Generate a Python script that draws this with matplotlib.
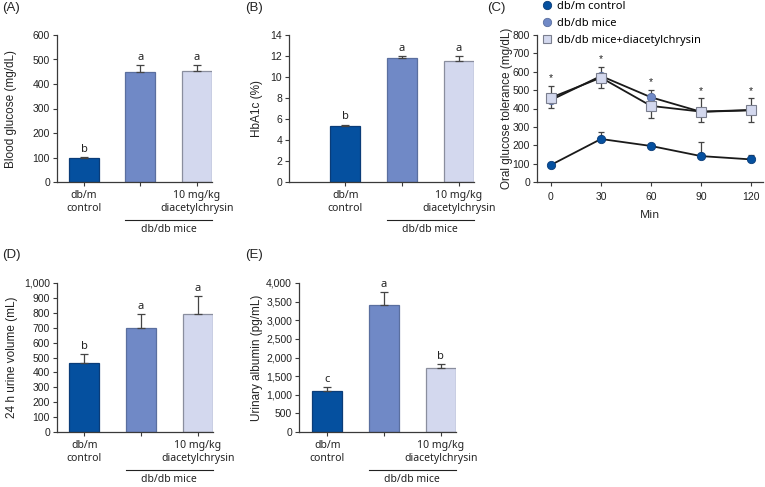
import matplotlib
matplotlib.use("Agg")
import matplotlib.pyplot as plt
from matplotlib.lines import Line2D
from matplotlib.ticker import StrMethodFormatter
import matplotlib.transforms as mtransforms

# ---------------- data ----------------
groups = ["db/m\ncontrol", "", "10 mg/kg\ndiacetylchrysin"]
group_bracket = "db/db mice"

glucose = [97, 450, 452]
glucose_err = [5, 27, 25]
glucose_sig = ["b", "a", "a"]

hba1c = [5.35, 11.8, 11.5]
hba1c_err = [0.12, 0.2, 0.5]
hba1c_sig = ["b", "a", "a"]

urine = [460, 700, 790]
urine_err = [65, 90, 125]
urine_sig = ["b", "a", "a"]

albumin = [1110, 3400, 1730]
albumin_err = [90, 360, 90]
albumin_sig = ["c", "a", "b"]

ogtt_time = [0, 30, 60, 90, 120]
ogtt_control = [93, 234, 196, 141, 123]
ogtt_control_err = [5, 40, 8, 77, 26]
ogtt_dbdb = [446, 577, 461, 382, 390]
ogtt_treat = [459, 568, 414, 383, 392]
ogtt_treat_err_low = [58, 58, 67, 55, 67]
ogtt_treat_err_high = [63, 56, 86, 72, 63]
ogtt_star = ["*", "*", "*", "*", "*"]
legend_labels = ["db/m control", "db/db mice", "db/db mice+diacetylchrysin"]

# ---------------- style ----------------
W, H = 765, 487
C_DARK = "#05509f"
C_MED = "#7089c6"
C_LIGHT = "#d3d8ee"
EDGE = ["#0a3c78", "#5a6f9f", "#8a8e9e"]
AX = "#3a3a3a"
NUM_FONT = ["Liberation Sans", "DejaVu Sans"]
TXT_FONT = ["Noto Sans", "DejaVu Sans"]

fig = plt.figure(figsize=(W / 100, H / 100), dpi=100)


def rect(l, r, t, b):
    return [l / W, 1 - b / H, (r - l) / W, (b - t) / H]


def style_axes(ax):
    for s in ["top", "right"]:
        ax.spines[s].set_visible(False)
    for s in ["left", "bottom"]:
        ax.spines[s].set_color(AX)
        ax.spines[s].set_linewidth(0.9)
    ax.tick_params(axis="both", direction="out", length=3, width=0.8,
                   color=AX, labelsize=7.5, labelcolor="#222222", pad=2)
    for lab in ax.get_yticklabels():
        lab.set_family(NUM_FONT)


def bar_panel(box, vals, errs, sig, ymax, ystep, ylabel, ylabel_x, xleft, thousands=False):
    ax = fig.add_axes(rect(*box))
    x = [0, 1, 2]
    cols = [C_DARK, C_MED, C_LIGHT]
    ax.bar(x, vals, width=0.53, color=cols, edgecolor=EDGE, linewidth=0.9, zorder=2)
    ax.errorbar(x, vals, yerr=[[0, 0, 0], errs], fmt="none", ecolor="#444444",
                elinewidth=0.9, capsize=3.2, capthick=0.9, zorder=3)
    for xi, v, e, s in zip(x, vals, errs, sig):
        ax.annotate(s, (xi, v + e), xytext=(0, 1.5), textcoords="offset points",
                    ha="center", va="bottom", fontsize=8, color="#222222",
                    family=TXT_FONT)
    nstep = int(round(ymax / ystep))
    ax.set_yticks([i * ystep for i in range(nstep + 1)])
    ax.set_xlim(xleft, 2.27)
    ax.set_ylim(0, ymax)
    if thousands:
        ax.yaxis.set_major_formatter(StrMethodFormatter("{x:,.0f}"))
    else:
        ax.yaxis.set_major_formatter(StrMethodFormatter("{x:.0f}"))
    ax.set_xticks(x)
    ax.set_xticklabels(groups, fontsize=7.5, family=TXT_FONT, linespacing=1.25)
    style_axes(ax)
    ax.tick_params(axis="x", pad=3)
    # y label
    l, r, t, b = box
    fig.text(ylabel_x / W, 1 - ((t + b) / 2) / H, ylabel, rotation=90,
             ha="center", va="center", fontsize=8.5, family=NUM_FONT, color="#222222")
    # bracket for db/db mice
    hpx = b - t
    trans = mtransforms.blended_transform_factory(ax.transData, ax.transAxes)
    ax.plot([1 - 0.265, 2.265], [-38 / hpx, -38 / hpx], color="#222222", lw=0.8,
            transform=trans, clip_on=False)
    ax.text(1.5, -48 / hpx, group_bracket, transform=trans, ha="center", va="center",
            fontsize=7.5, family=TXT_FONT, color="#222222")
    return ax


bar_panel((57, 212, 35, 182), glucose, glucose_err, glucose_sig, 600, 100,
          "Blood glucose (mg/dL)", 11, -0.48)
bar_panel((289, 474, 35, 182), hba1c, hba1c_err, hba1c_sig, 14, 2,
          "HbA1c (%)", 257, -0.99)
bar_panel((57, 213, 283, 432), urine, urine_err, urine_sig, 1000, 100,
          "24 h urine volume (mL)", 12, -0.48, thousands=True)
bar_panel((299, 456, 283, 432), albumin, albumin_err, albumin_sig, 4000, 500,
          "Urinary albumin (pg/mL)", 257, -0.5, thousands=True)

# ---------------- panel C ----------------
axc = fig.add_axes(rect(537, 763, 35, 182))
axc.errorbar(ogtt_time, ogtt_treat, yerr=[ogtt_treat_err_low, ogtt_treat_err_high],
             fmt="none", ecolor="#444444", elinewidth=0.9, capsize=2.5, capthick=0.9, zorder=2)
axc.errorbar(ogtt_time, ogtt_control, yerr=[[0] * 5, ogtt_control_err],
             fmt="none", ecolor="#444444", elinewidth=0.9, capsize=2.5, capthick=0.9, zorder=2)
axc.plot(ogtt_time, ogtt_dbdb, color="#1a1a1a", lw=1.3, marker="o", ms=6,
         mfc=C_MED, mec="#5a6f9f", mew=0.6, zorder=3)
axc.plot(ogtt_time, ogtt_treat, color="#1a1a1a", lw=1.3, marker="s", ms=6.5,
         mfc=C_LIGHT, mec="#7a7e8e", mew=0.8, zorder=4)
axc.plot(ogtt_time, ogtt_control, color="#1a1a1a", lw=1.3, marker="o", ms=6,
         mfc=C_DARK, mec="#0a3c78", mew=0.6, zorder=3)
for t, v, e, s in zip(ogtt_time, ogtt_treat, ogtt_treat_err_high, ogtt_star):
    axc.annotate(s, (t, v + e), xytext=(0, 2), textcoords="offset points",
                 ha="center", va="bottom", fontsize=7.5, color="#222222",
                 family=NUM_FONT)
axc.set_xlim(-8.4, 127.2)
axc.set_ylim(0, 800)
axc.set_xticks(ogtt_time)
axc.set_yticks(range(0, 801, 100))
style_axes(axc)
for lab in axc.get_xticklabels():
    lab.set_family(NUM_FONT)
axc.tick_params(axis="x", pad=4)
axc.set_xlabel("Min", fontsize=8, family=TXT_FONT, color="#222222", labelpad=6)
fig.text(507 / W, 1 - 108.5 / H, "Oral glucose tolerance (mg/dL)", rotation=90,
         ha="center", va="center", fontsize=8.5, family=NUM_FONT, color="#222222")

handles = [
    Line2D([], [], ls="none", marker="o", ms=6, mfc=C_DARK, mec="#0a3c78", mew=0.6),
    Line2D([], [], ls="none", marker="o", ms=6, mfc=C_MED, mec="#5a6f9f", mew=0.6),
    Line2D([], [], ls="none", marker="s", ms=6, mfc=C_LIGHT, mec="#7a7e8e", mew=0.8),
]
fig.legend(handles, legend_labels, loc="upper left", bbox_to_anchor=(543 / W, 1 - 1 / H),
           frameon=False, handlelength=0.8, handletextpad=0.45, labelspacing=0.55,
           borderpad=0, borderaxespad=0, prop={"family": TXT_FONT, "size": 8})

# ---------------- panel labels ----------------
for lbl, x, y in [("(A)", 2, 8), ("(B)", 245, 8), ("(C)", 487, 8), ("(D)", 2, 255), ("(E)", 245, 255)]:
    fig.text(x / W, 1 - y / H, lbl, ha="left", va="center", fontsize=9.5,
             family=NUM_FONT, color="#222222")

fig.savefig("out.png", dpi=100)
